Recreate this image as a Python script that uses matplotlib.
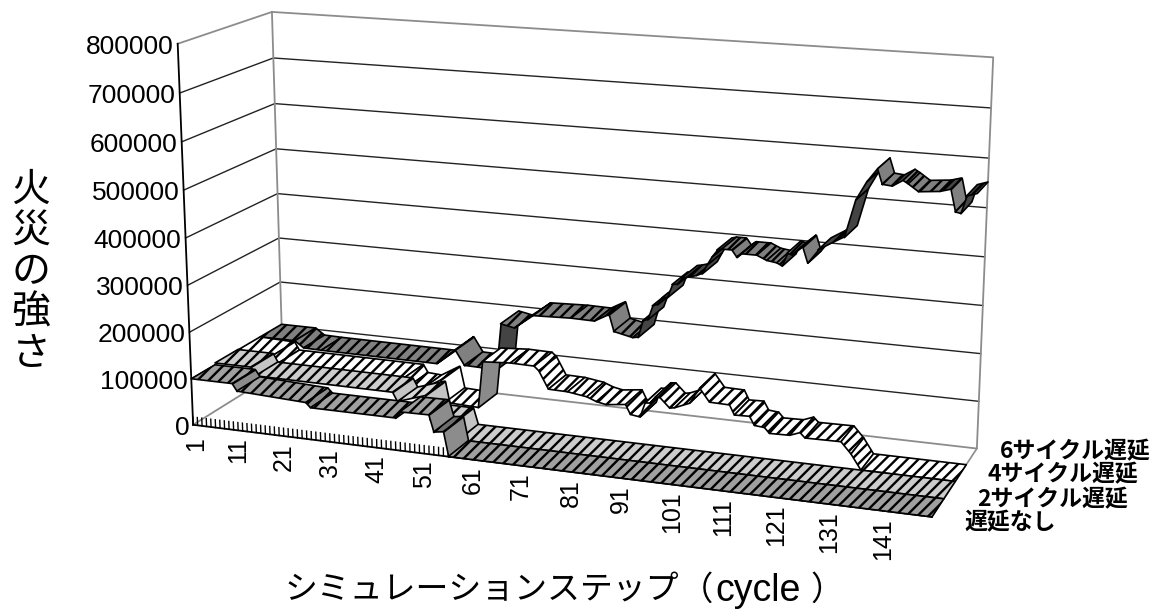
import numpy as np
import matplotlib
matplotlib.use('Agg')
import matplotlib.pyplot as plt
from mpl_toolkits.mplot3d import proj3d
from mpl_toolkits.mplot3d.art3d import Poly3DCollection

JP = ['Noto Sans CJK JP', 'DejaVu Sans']
ARIAL = ['Liberation Sans', 'DejaVu Sans']
plt.rcParams['font.family'] = JP
plt.rcParams['hatch.linewidth'] = 1.7

# values in thousands, read at the turning points of each ribbon
cycles_none = [1, 10, 11, 26, 27, 45, 46, 52, 53, 55, 56, 150]
values_none = [100, 100, 85, 78, 68, 68, 82, 83, 48, 51, 0, 0]
cycles_2 = [1, 9, 10, 40, 41, 47, 48, 53, 54, 150]
values_2 = [104, 104, 86, 85, 66, 86, 35, 35, 0, 0]
cycles_4 = [1, 9, 10, 38, 39, 42, 46, 47, 54, 55, 61, 66, 67, 69, 73, 77, 79, 81, 85, 86, 88, 89, 90, 91, 92, 94, 95,
            98, 100, 102, 106, 107, 110, 111, 113, 114, 118, 120, 121, 128, 130, 132, 150]
values_4 = [103, 100, 83, 82, 65, 63, 87, 40, 37, 137, 141, 140, 131, 94, 93, 87, 79, 75, 80, 60, 57, 88, 89, 102, 103,
            83, 85, 98, 132, 105, 104, 84, 85, 67, 65, 54, 55, 63, 53, 54, 31, 0, 0]
cycles_6 = [1, 9, 11, 15, 41, 45, 47, 51, 54, 55, 58, 62, 70, 75, 78, 79, 83, 84, 85, 86, 87, 88, 89, 90, 91, 92, 93,
            94, 96, 97, 98, 99, 100, 101, 103, 104, 105, 108, 110, 112, 113, 114, 115, 117, 118, 120, 123, 125, 127,
            129, 131, 132, 134, 136, 137, 139, 143, 145, 146, 147, 148, 150]
values_6 = [103, 103, 89, 88, 87, 122, 90, 89, 89, 190, 184, 215, 218, 217, 234, 199, 190, 192, 228, 232, 262, 266,
            281, 283, 311, 313, 327, 329, 335, 340, 360, 378, 392, 395, 395, 381, 389, 389, 380, 377, 372, 399, 396,
            414, 383, 411, 430, 442, 520, 558, 586, 555, 553, 566, 560, 546, 550, 556, 512, 510, 545, 552]
series_cycles = [cycles_none, cycles_2, cycles_4, cycles_6]
series_values = [values_none, values_2, values_4, values_6]
series_names = ['遅延なし', '2サイクル遅延', '4サイクル遅延', '6サイクル遅延']

flat_colors = ['#a0a0a0', '#cccccc', '#ffffff', '#808080']
fall_colors = ['#8c8c8c', '#c4c4c4', '#ffffff', '#808080']
rise_colors = ['#6e6e6e', '#d8d8d8', '#8a8a8a', '#444444']
solid_slope = [10, 10, 40, 10]

W, H = 1159, 613
fig = plt.figure(figsize=(W / 100, H / 100), dpi=100)
ax = fig.add_subplot(projection='3d', computed_zorder=False)
ax.set_proj_type('persp', focal_length=0.4)
ax.view_init(elev=14.674, azim=-69.813)
box = [1.21997, 0.32390, 0.62734]
ax.set_box_aspect(box, zoom=np.linalg.norm(box) / (1.8294640721620434 * 25 / 24))
# scale and centre of the projected plane, in pixels
s, x0, y0 = 6358.52, 579.56, 247.30
side = 0.185 * s
ax.set_position([(x0 - 0.095 * s) / W, (H - y0 - 0.095 * s) / H, side / W, side / H])
ax.set_axis_off()

# walls and floor
grey = '#8c8c8c'
for v in range(100000, 800000, 100000):
    ax.plot([1, 1, 150], [0, 4, 4], [v, v, v], color='#222222', lw=1.0, zorder=1)
ax.plot([1, 1, 150, 150, 1, 1], [0, 4, 4, 4, 4, 0], [800000, 800000, 800000, 0, 0, 0], color=grey, lw=1.3, zorder=1)
ax.plot([1, 1], [4, 4], [0, 800000], color=grey, lw=1.3, zorder=1)
ax.plot([150, 150], [4, 0], [0, 0], color=grey, lw=1.2, zorder=1)

# axis lines and ticks
ax.plot([1, 1], [0, 0], [0, 800000], color='k', lw=1.3, zorder=3)
ax.plot([1, 150], [0, 0], [0, 0], color='k', lw=1.3, zorder=3)
for c in range(1, 151):
    ax.plot([c, c], [0, 0], [0, 17000], color='k', lw=1.0, zorder=2)

# ribbons, back one first, each from the far end to the near end
for k in [3, 2, 1, 0]:
    cs, vs = series_cycles[k], series_values[k]
    for i in range(len(cs) - 1):
        a, b = vs[i] * 1000, vs[i + 1] * 1000
        slope = (vs[i + 1] - vs[i]) / (cs[i + 1] - cs[i])
        if slope > 1:
            col = rise_colors[k]
            if k == 2 and slope < solid_slope[k]:
                col = flat_colors[k]
        elif slope < -1:
            col = fall_colors[k]
        else:
            col = flat_colors[k]
        hatch = None if abs(slope) > solid_slope[k] else '///'
        verts = [(cs[i], k, a), (cs[i + 1], k, b), (cs[i + 1], k + 1, b), (cs[i], k + 1, a)]
        poly = Poly3DCollection([verts], facecolors=col, edgecolors='k', linewidths=1.2, hatch=hatch,
                                zorder=1000 * (4 - k) + i)
        ax.add_collection3d(poly, autolim=False)
ax.set_xlim(1, 150)
ax.set_ylim(0, 4)
ax.set_zlim(0, 800000)
M = ax.get_proj()


def label(x, y, z, txt, dx, dy, **kw):
    px, py, _ = proj3d.proj_transform(x, y, z, M)
    ax.annotate(txt, xy=(px, py), xytext=(dx, dy), textcoords='offset pixels', annotation_clip=False, **kw)


for v in range(0, 900000, 100000):
    label(1, 0, v, str(v), -4, -3, ha='right', va='center', fontsize=19, family=ARIAL, zorder=9000)
for c in range(1, 150, 10):
    # the first label sits a little lower, clear of the 0
    dx, dy = (3, -12) if c == 1 else (0, -7)
    label(c, 0, 0, str(c), dx, dy, ha='center', va='top', rotation=90, fontsize=18, family=ARIAL, zorder=9000)

# series names
for name, xp, yp in zip(series_names, [964, 977, 988, 1000], [523, 500, 475, 452]):
    fig.text(xp / W, 1 - yp / H, name, ha='left', va='center', fontsize=16.5, fontweight='bold', family=JP)

for ch, yp in zip('火災の強さ', [190, 231, 272, 313, 354]):
    fig.text(31 / W, 1 - yp / H, ch, ha='center', va='center', fontsize=28, family=JP)
fig.text(285 / W, 1 - 590 / H, 'シミュレーションステップ', ha='left', va='center', fontsize=23.7, family=JP)
fig.text(680 / W, 1 - 590 / H, '（', ha='left', va='center', fontsize=24, family=JP)
fig.text(758 / W, 1 - 591 / H, 'cycle', ha='center', va='center', fontsize=27, family=ARIAL)
fig.text(844 / W, 1 - 590 / H, '）', ha='right', va='center', fontsize=24, family=JP)

fig.savefig('out.png', dpi=100)
